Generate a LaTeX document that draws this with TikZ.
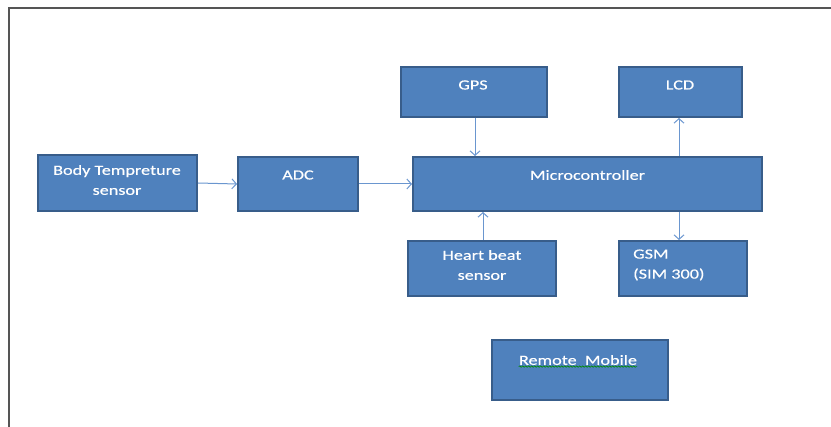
\documentclass[tikz,border=0pt]{standalone}
\usepackage{fontspec}
\setmainfont{Carlito}[FakeStretch=1.3,FakeBold=0.4]
\usetikzlibrary{arrows.meta,decorations.pathmorphing}
\definecolor{boxfill}{HTML}{4F81BD}
\definecolor{boxedge}{HTML}{385D8A}
\definecolor{arrowc}{HTML}{6A96CF}
\definecolor{framec}{HTML}{555555}
\begin{document}
\begin{tikzpicture}[x=1pt,y=-1pt,
  blk/.style={draw=boxedge,line width=2pt,fill=boxfill,inner sep=0pt},
  lbl/.style={text=white,font=\fontsize{14}{20}\selectfont,inner sep=0pt,align=center},
  conn/.style={draw=arrowc,line width=1pt,-{Straight Barb[length=4.5pt,width=10pt]}}]
\useasboundingbox (0,0) rectangle (831,427);
% frame
\draw[framec,line width=1.3pt] (9,427) -- (9,8) -- (831,8);
% boxes
\node[blk,minimum width=159pt,minimum height=56pt] (body) at (117.5,183) {};
\node[blk,minimum width=120pt,minimum height=54pt] (adc) at (298,184) {};
\node[blk,minimum width=349pt,minimum height=54pt] (mcu) at (587.5,184) {};
\node[blk,minimum width=146pt,minimum height=50pt] (gps) at (474,92) {};
\node[blk,minimum width=123pt,minimum height=50pt] (lcd) at (680.5,92) {};
\node[blk,minimum width=148pt,minimum height=55pt] (heart) at (482,268.5) {};
\node[blk,minimum width=128pt,minimum height=55pt] (gsm) at (683,268.5) {};
\node[blk,minimum width=176pt,minimum height=60pt] (remote) at (580,370) {};
% labels
\node[lbl] (tbody) at (117,180) {Body Tempreture\\sensor};
\node[lbl] (tadc) at (298,175) {ADC};
\node[lbl] (tmcu) at (587.5,175) {Microcontroller};
\node[lbl] (tgps) at (473,85) {GPS};
\node[lbl] (tlcd) at (680,85) {LCD};
\node[lbl] (theart) at (482,265) {Heart beat\\sensor};
\node[lbl,align=left,anchor=west] (tgsm) at (633,265) {GSM\\(SIM 300)};
\node[lbl] (tremote) at (578,360) {Remote\ \ Mobile};
\draw[green!55!black,line width=0.6pt,decorate,decoration={snake,amplitude=0.7pt,segment length=3pt}]
  ([yshift=-1.5pt]tremote.south west) -- ([yshift=-1.5pt]tremote.south east);
% connectors
\draw[conn] (body.east) -- (adc.west);
\draw[conn] (adc.east) -- (mcu.west);
\draw[conn] (gps.south -| 475,0) -- (mcu.north -| 475,0);
\draw[conn] (heart.north -| 483,0) -- (mcu.south -| 483,0);
\draw[conn] (mcu.north -| 679,0) -- (lcd.south -| 679,0);
\draw[conn] (mcu.south -| 679,0) -- (gsm.north -| 679,0);
\end{tikzpicture}
\end{document}
